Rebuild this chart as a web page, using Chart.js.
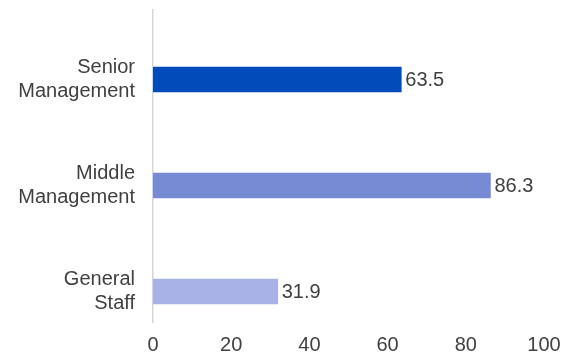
<!DOCTYPE html>
<html>
<head>
<meta charset="utf-8">
<script src="https://cdn.jsdelivr.net/npm/chart.js@4.4.1/dist/chart.umd.min.js"></script>
<style>
  html, body { margin: 0; padding: 0; background: #ffffff; }
  #wrap { width: 567px; height: 355px; position: relative; }
</style>
</head>
<body>
<div id="wrap"><canvas id="c"></canvas></div>
<script>
// ---- data ----
const categories = [["Senior", "Management"], ["Middle", "Management"], ["General", "Staff"]];
const values = [63.5, 86.3, 31.9];
const barColors = ["#014BBA", "#778BD5", "#A8B2E6"];
const xTicks = [0, 20, 40, 60, 80, 100];

const textColor = "#404040";
const fontFamily = "'Liberation Sans', Arial, sans-serif";
const yMin = -0.656, yMax = 2.288;

const points = values.map((v, i) => ({ x: v, y: i }));

const valueLabels = {
  id: "valueLabels",
  afterDatasetsDraw(chart) {
    const ctx = chart.ctx;
    const meta = chart.getDatasetMeta(0);
    ctx.save();
    ctx.font = "20px " + fontFamily;
    ctx.fillStyle = textColor;
    ctx.textAlign = "left";
    ctx.textBaseline = "middle";
    meta.data.forEach((bar, i) => {
      ctx.fillText(values[i].toFixed(1), bar.x + 4, bar.y + 1);
    });
    ctx.restore();
  }
};

new Chart(document.getElementById("c"), {
  type: "bar",
  data: {
    datasets: [{
      data: points,
      backgroundColor: barColors,
      borderWidth: 0,
      barThickness: 25
    }]
  },
  options: {
    indexAxis: "y",
    responsive: true,
    maintainAspectRatio: false,
    animation: false,
    layout: { padding: { top: 10, right: 23, left: 0, bottom: 0 } },
    plugins: { legend: { display: false }, tooltip: { enabled: false } },
    scales: {
      x: {
        type: "linear",
        min: 0,
        max: 100,
        afterBuildTicks(s) { s.ticks = xTicks.map(v => ({ value: v })); },
        afterFit(s) { s.height = 33; s.paddingRight = 0; s.paddingLeft = 0; },
        grid: { display: false, drawTicks: false },
        border: { display: false },
        ticks: { color: textColor, font: { size: 20, family: fontFamily }, padding: 11, maxRotation: 0 }
      },
      y: {
        type: "linear",
        reverse: true,
        offset: false,
        bounds: "data",
        min: yMin,
        max: yMax,
        afterBuildTicks(s) {
          s.ticks = [{ value: yMin }].concat(categories.map((_, i) => ({ value: i })), [{ value: yMax }]);
        },
        afterFit(s) { s.width = 153; s.paddingTop = 0; s.paddingBottom = 0; },
        grid: { display: false, drawTicks: false, offset: false },
        border: { display: true, color: "#d6d6d6", width: 1.5 },
        ticks: {
          color: textColor,
          font: { size: 20, family: fontFamily, lineHeight: 1.2 },
          padding: 18,
          callback: (v) => (Number.isInteger(v) && categories[v]) ? categories[v] : ""
        }
      }
    }
  },
  plugins: [valueLabels]
});
</script>
</body>
</html>
